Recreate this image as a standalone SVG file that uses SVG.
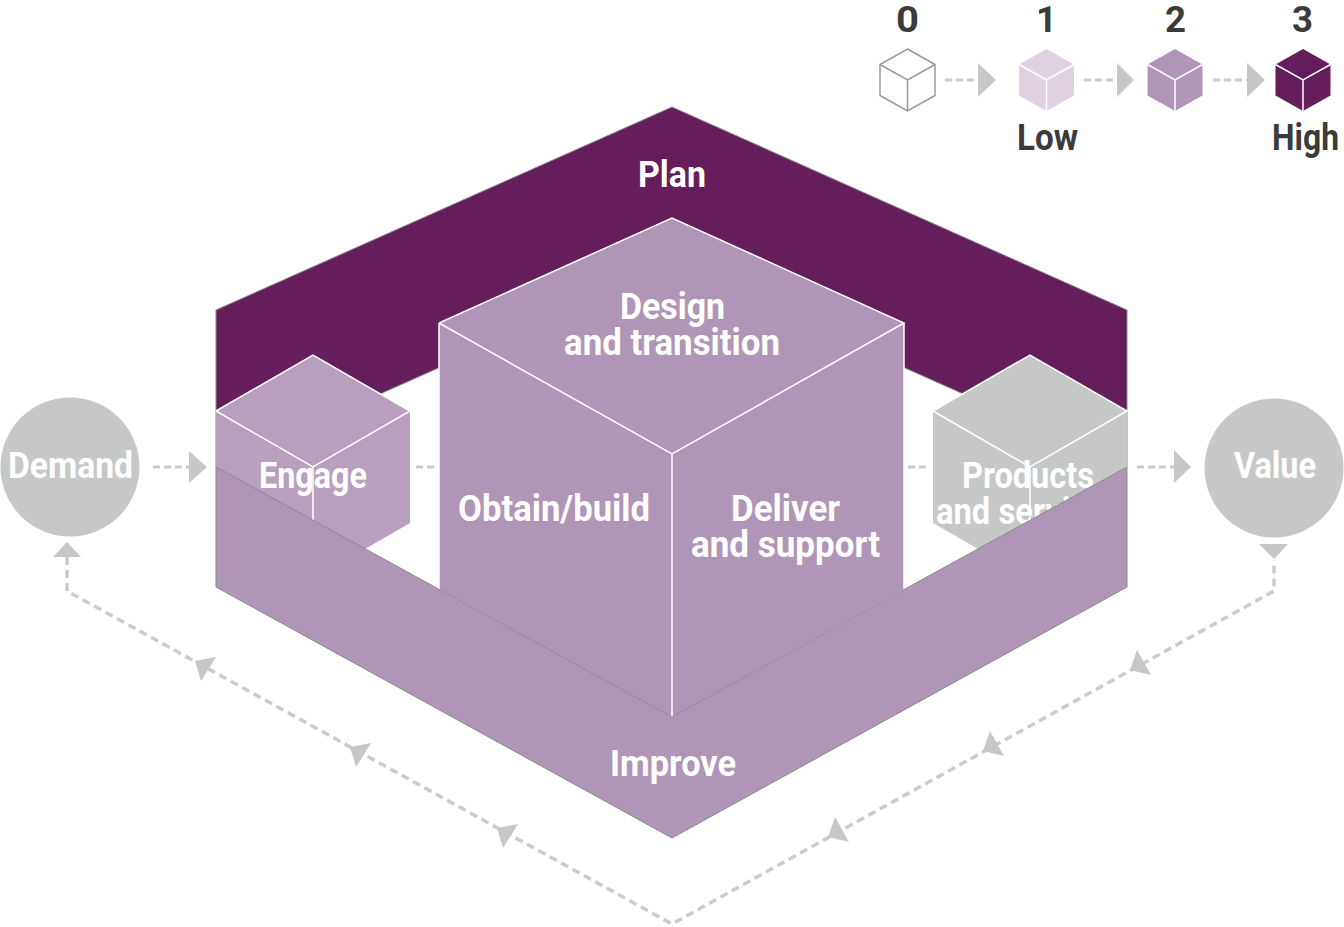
<svg xmlns="http://www.w3.org/2000/svg" width="1344" height="927" viewBox="0 0 1344 927">
<style>
text{font-family:Roboto,"Liberation Sans",sans-serif;font-weight:700;fill:#fff;font-size:36px;text-anchor:start}
.d{fill:#3b3b3b}
.e{fill:none;stroke:#fff;stroke-width:1.5}
.g{stroke:#8a8a8a;stroke-width:1}
.dash{fill:none;stroke:#cbccca;stroke-width:3;stroke-dasharray:7 4}
.long{stroke-width:3.500;stroke-dasharray:8 5}
.tri{fill:#c6c8c7}
.mauve{fill:#b096b6}
.plum{fill:#661d5b}
</style>
<defs>
<path id="lines" d="M-27.500 -15.500L0 0L27.500 -15.500M0 0V31" class="e"/>
<polygon id="hex" points="0,-31 27.500,-15.500 27.500,15.500 0,31 -27.500,15.500 -27.500,-15.500"/>
<polygon id="headL" points="0,0 21,-4 6,20" class="tri"/>
<polygon id="headR" points="0,0 7,-20 21,5" class="tri"/>
</defs>
<g id="connectors">
<path class="dash" d="M153 467H190M1137 467H1175M416 467H434M908 467H926M945 80H978M1084 80H1117M1213 80H1247"/>
<path class="dash long" d="M67 557V591L672 924L1274 591V560"/>
<polygon class="tri" points="189,451 207,467 189,483"/>
<polygon class="tri" points="1174,450 1191,467 1174,483"/>
<polygon class="tri" points="978,63 996,80 978,97"/>
<polygon class="tri" points="1117,63 1134,80 1117,97"/>
<polygon class="tri" points="1247,63 1265,80 1247,97"/>
<polygon class="tri" points="53,557 67,542 81,557"/>
<polygon class="tri" points="1259,544 1288,544 1274,559"/>
<use href="#headL" x="497" y="828"/>
<use href="#headL" x="350" y="747"/>
<use href="#headL" x="195" y="661"/>
<use href="#headR" x="828" y="837"/>
<use href="#headR" x="983" y="751"/>
<use href="#headR" x="1130" y="670"/>
</g>
<g id="legend-0">
<use href="#hex" x="907.500" y="80" fill="#fff" stroke="#999" stroke-width="1.500"/>
<path d="M880 64.500L907.500 80L935 64.500M907.500 80V111" fill="none" stroke="#999" stroke-width="1.500"/>
<text class="d" x="896" y="32" textLength="23" lengthAdjust="spacingAndGlyphs">0</text>
</g>
<g id="legend-1">
<use href="#hex" x="1046.500" y="80" fill="#dfd1e0"/>
<use href="#lines" x="1046.500" y="80"/>
<text class="d" x="1036" y="32" textLength="21" lengthAdjust="spacingAndGlyphs">1</text>
<text class="d" x="1017" y="150" textLength="61" lengthAdjust="spacingAndGlyphs">Low</text>
</g>
<g id="legend-2">
<use href="#hex" x="1175" y="80" class="mauve"/>
<use href="#lines" x="1175" y="80"/>
<text class="d" x="1165" y="32" textLength="21" lengthAdjust="spacingAndGlyphs">2</text>
</g>
<g id="legend-3">
<use href="#hex" x="1303" y="80" class="plum"/>
<use href="#lines" x="1303" y="80"/>
<text class="d" x="1292" y="32" textLength="21" lengthAdjust="spacingAndGlyphs">3</text>
<text class="d" x="1272" y="150" textLength="67" lengthAdjust="spacingAndGlyphs">High</text>
</g>
<g id="demand">
<circle cx="70" cy="467" r="69.500" fill="#c6c8c7"/>
<text x="8" y="478" textLength="125" lengthAdjust="spacingAndGlyphs">Demand</text>
</g>
<g id="value">
<circle cx="1274" cy="468" r="69.500" fill="#c6c8c7"/>
<text x="1234" y="478" textLength="82" lengthAdjust="spacingAndGlyphs">Value</text>
</g>
<g id="plan">
<polygon class="plum g" points="216,310 672,107 1127,310 1127,467 672,264 216,467"/>
<text x="638" y="187" textLength="68" lengthAdjust="spacingAndGlyphs">Plan</text>
</g>
<g id="engage">
<polygon fill="#b89fbd" points="313,355 410,411 410,523 313,579 216,523 216,411"/>
<path class="e" d="M216 411L313 355L410 411L313 467L216 411M313 467V579"/>
</g>
<g id="products">
<polygon fill="#c6c8c7" points="1030,355 1127,411 1127,523 1030,579 933,523 933,411"/>
<path class="e" d="M933 411L1030 355L1127 411L1030 467L933 411M1030 467V579"/>
<text x="962" y="488" textLength="132" lengthAdjust="spacingAndGlyphs">Products</text>
<text x="936" y="524" textLength="186" lengthAdjust="spacingAndGlyphs">and services</text>
</g>
<g id="design-obtain-deliver">
<polygon class="mauve" points="672,218 904,323 904,589 672,717 439,589 439,323"/>
<path class="e" d="M439 323L672 218L904 323L672 454L439 323M672 454V717M439 323V589M904 323V589"/>
<text x="620" y="319" textLength="105" lengthAdjust="spacingAndGlyphs">Design</text>
<text x="564" y="355" textLength="216" lengthAdjust="spacingAndGlyphs">and transition</text>
<text x="458" y="521" textLength="192" lengthAdjust="spacingAndGlyphs">Obtain/build</text>
<text x="731" y="521" textLength="109" lengthAdjust="spacingAndGlyphs">Deliver</text>
<text x="691" y="557" textLength="189" lengthAdjust="spacingAndGlyphs">and support</text>
</g>
<g id="improve">
<polygon class="mauve g" points="216,467 672,717 1127,467 1127,587 672,838 216,587"/>
<text x="610" y="776" textLength="126" lengthAdjust="spacingAndGlyphs">Improve</text>
</g>
<text x="259" y="488" textLength="108" lengthAdjust="spacingAndGlyphs">Engage</text>
</svg>
